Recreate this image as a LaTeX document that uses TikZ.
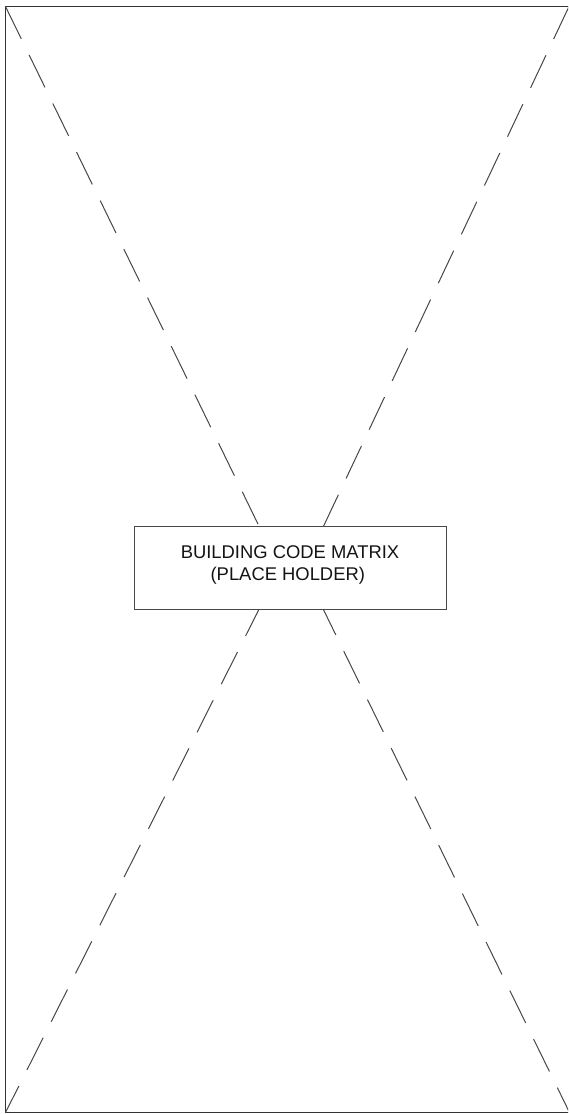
\documentclass[tikz,border=0pt]{standalone}
\usepackage{fontspec}
\setmainfont{Liberation Sans}
\begin{document}
\begin{tikzpicture}[x=1pt,y=-1pt,
  frame/.style={draw=black!80, line width=1.3pt},
  xline/.style={draw=black!72, line width=1pt, dash pattern=on 36pt off 18pt},
  box/.style={draw=black!72, fill=white, line width=1pt, minimum width=312pt, minimum height=82.6pt, inner sep=0pt},
  lbl/.style={font=\fontsize{18.4pt}{22pt}\selectfont, text=black!92, inner sep=0pt, anchor=base}]
\clip (0,0) rectangle (568,1114);
\fill[white] (0,0) rectangle (568,1114);
% frame
\draw[frame] (5.5,6.5) rectangle (570,1112.5);
% corners and box-edge points
\coordinate (tl) at (5.5,6.5);
\coordinate (tr) at (569,6.5);
\coordinate (bl) at (5.5,1112.5);
\coordinate (br) at (569.5,1112.5);
\coordinate (a1) at (259.3,526.7);
\coordinate (b1) at (323.3,526.7);
\coordinate (c1) at (259.0,609.3);
\coordinate (d1) at (323.3,609.3);
% placeholder cross
\draw[xline] (tl) -- (a1);
\draw[xline] (tr) -- (b1);
\draw[xline, dash phase=6.2pt] (c1) -- (bl);
\draw[xline, dash phase=7.5pt] (d1) -- (br);
% box and label
\node[box] (box) at (290.9,568) {};
\node[lbl] (line1) at (290,558.7) {BUILDING CODE MATRIX};
\node[lbl] (line2) at (287.8,580.5) {(PLACE HOLDER)};
\end{tikzpicture}
\end{document}
